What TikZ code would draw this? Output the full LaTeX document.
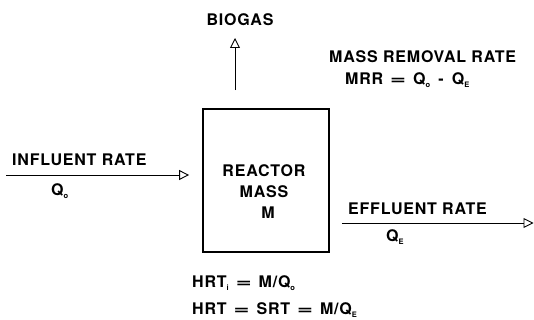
\documentclass[tikz,border=0pt]{standalone}
\usepackage{fontspec}
\usepackage{graphicx}
\setmainfont{TeX Gyre Heros}[LetterSpace=5]
\usetikzlibrary{arrows.meta,positioning,calc}
\newcommand{\sbs}[1]{\raisebox{-2.5pt}{\fontsize{7.5}{7.5}\selectfont #1}}
\newcommand{\eqs}{\hspace{7pt}\scalebox{1.7}[1]{=}\hspace{7pt}}

\begin{document}
\begin{tikzpicture}[x=1pt,y=1pt,
  every node/.style={font=\fontsize{16}{21}\selectfont\bfseries,inner sep=0pt},
  vessel/.style={draw=black,line width=1.8pt,minimum width=126pt,minimum height=143pt},
  flow/.style={-{Triangle[open,length=10pt,width=10pt]},line width=0.9pt}]
\useasboundingbox (0,0) rectangle (534,-320);
\node[vessel] (box) at (266,-180.5) {};
\node[align=center] (reac) at (264,-192) {REACTOR\\MASS\\\hspace*{8pt}M};
\node (gas) at (240,-20) {BIOGAS};
\node[anchor=west] (mrt) at (329,-57) {MASS REMOVAL RATE};
\node[anchor=west] (mrr) at (345,-80) {MRR\eqs Q\sbs{o}\hspace{3pt} - \hspace{3pt}Q\sbs{E}};
\node[anchor=west] (inrate) at (12,-160) {INFLUENT RATE};
\node[anchor=west] (qin) at (51,-191) {Q\sbs{o}};
\node[anchor=west] (efrate) at (348,-209) {EFFLUENT RATE};
\node[anchor=west] (qef) at (386,-237) {Q\sbs{E}};
\node[anchor=west] (hrti) at (192,-283) {HRT\sbs{i}\eqs M/Q\sbs{o}};
\node[anchor=west] (hrt) at (192,-310) {HRT\eqs SRT\eqs M/Q\sbs{E}};
\coordinate (gastip) at (235,-38);
\coordinate (infl) at (6,-175);
\coordinate (effl) at (533.5,-223);
\draw[flow,shorten <=18pt] (box.north -| gastip) -- (gastip);
\draw[flow,shorten >=13pt] (infl) -- (infl -| box.west);
\draw[flow,shorten <=12pt] (box.east |- effl) -- (effl);
\end{tikzpicture}
\end{document}
